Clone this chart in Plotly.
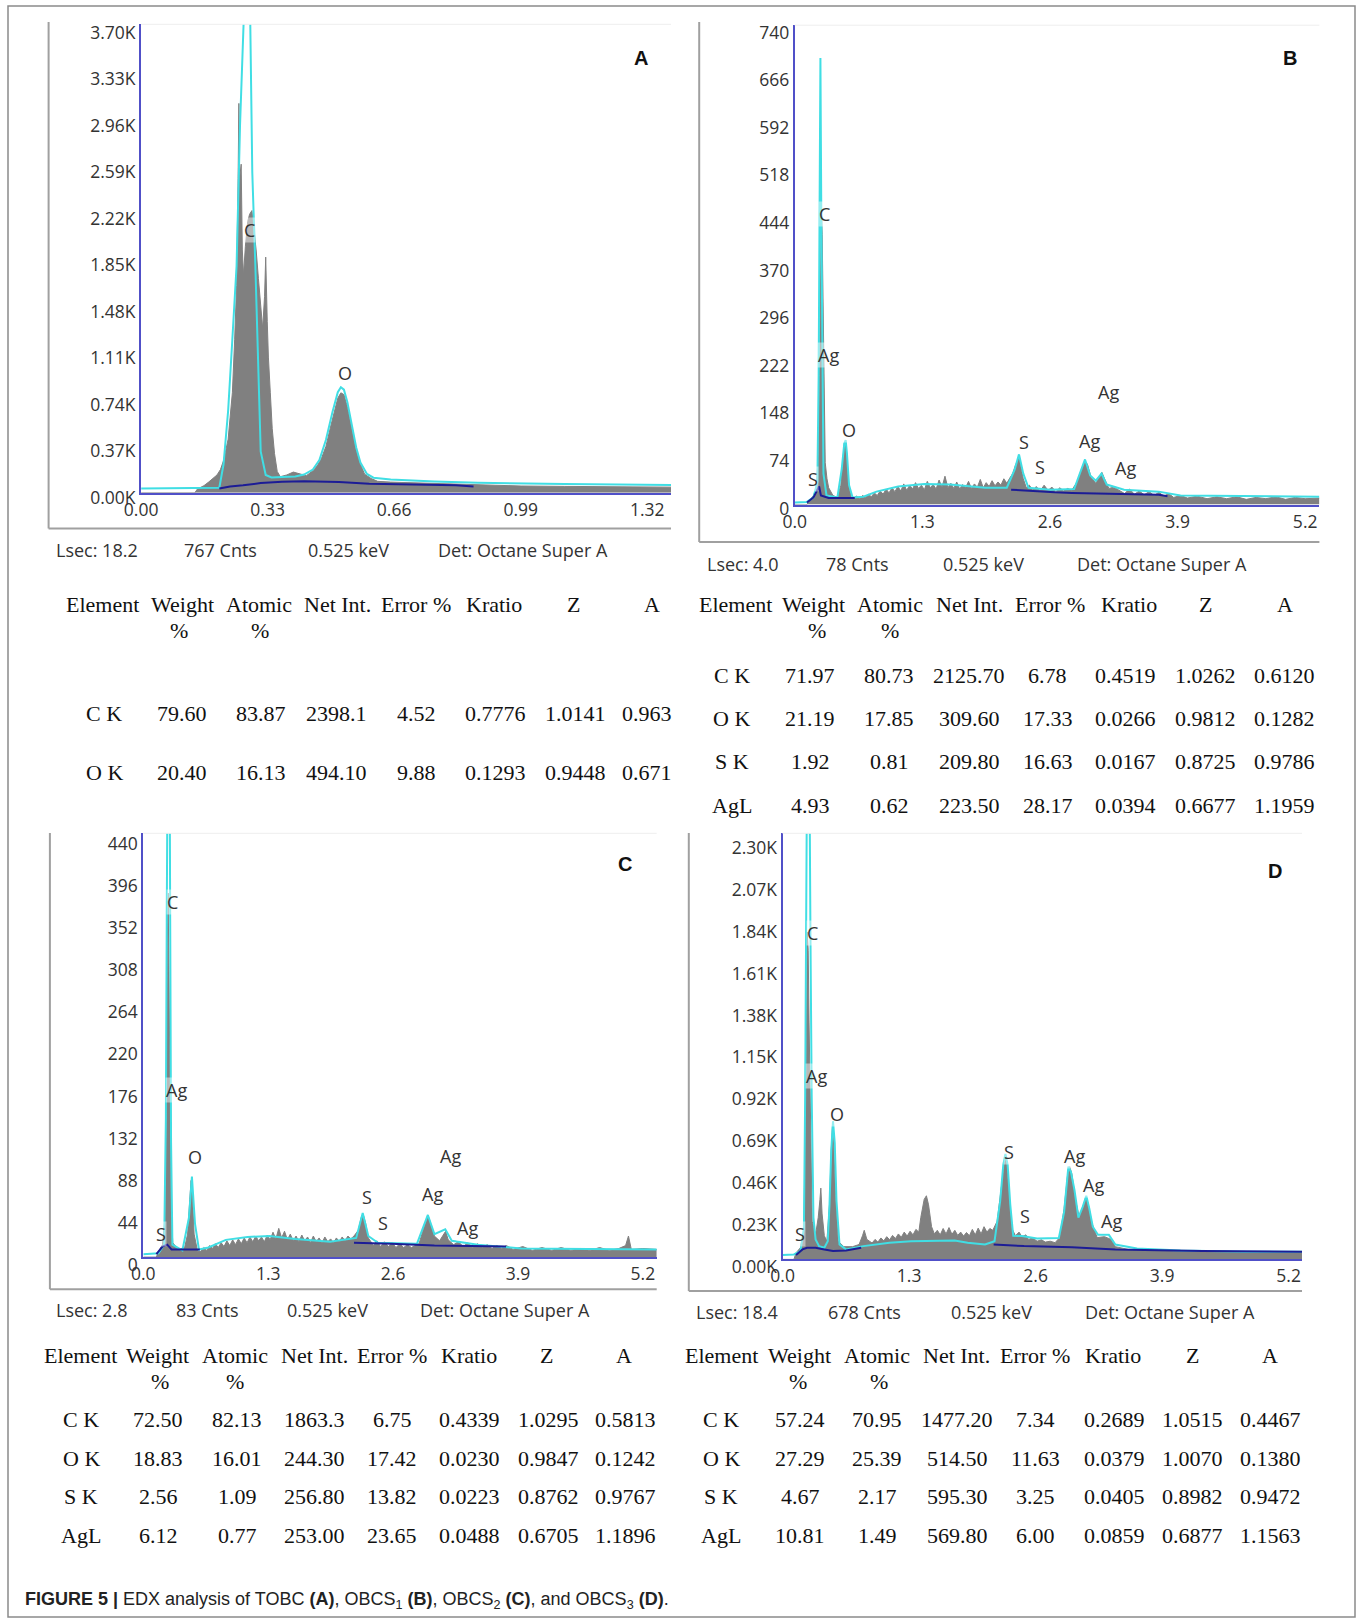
import plotly.graph_objects as go

# ---------------- DATA (energy keV, counts) ----------------
# Panel A (TOBC)
a_gray = [(0, 0), (0.14, 0), (0.147, 30), (0.164, 57), (0.176, 85), (0.187, 114), (0.198, 142), (0.207, 185),
          (0.215, 256), (0.221, 341), (0.227, 426), (0.232, 596), (0.238, 795), (0.244, 1221), (0.249, 1647),
          (0.253, 2499), (0.255, 3096), (0.257, 2499), (0.261, 2613), (0.264, 1931), (0.267, 1732), (0.272, 1960),
          (0.278, 2158), (0.283, 2215), (0.289, 2244), (0.295, 2073), (0.30, 1931), (0.306, 1704), (0.312, 1477),
          (0.317, 1306), (0.322, 1562), (0.325, 1874), (0.329, 1363), (0.332, 1079), (0.337, 795), (0.342, 511),
          (0.348, 312), (0.355, 170), (0.363, 128), (0.38, 142), (0.397, 165), (0.414, 148), (0.431, 136),
          (0.448, 176), (0.459, 213), (0.47, 270), (0.482, 369), (0.493, 511), (0.504, 653), (0.513, 753),
          (0.521, 795), (0.529, 781), (0.538, 682), (0.55, 511), (0.561, 341), (0.572, 227), (0.583, 148),
          (0.60, 114), (0.617, 91), (0.651, 85), (0.708, 80), (0.765, 74), (0.821, 68), (0.878, 62), (0.935, 57),
          (0.991, 54), (1.105, 51), (1.218, 48), (1.382, 45)]
a_fit = [(0, 34), (0.187, 36), (0.204, 40), (0.215, 227), (0.227, 653), (0.238, 1221), (0.249, 1803),
         (0.258, 2920), (0.266, 3900), (0.275, 4400), (0.284, 3900), (0.290, 2547), (0.298, 1803), (0.305, 1065),
         (0.312, 327), (0.325, 142), (0.34, 122), (0.368, 125), (0.402, 130), (0.425, 145), (0.448, 185),
         (0.465, 260), (0.482, 420), (0.499, 640), (0.513, 800), (0.521, 840), (0.529, 820), (0.538, 720),
         (0.55, 540), (0.561, 360), (0.572, 240), (0.589, 150), (0.606, 120), (0.651, 105), (0.765, 90),
         (0.878, 80), (1.105, 70), (1.382, 62)]
a_bg = [(0.204, 34), (0.232, 50), (0.266, 60), (0.312, 77), (0.368, 88), (0.425, 91), (0.516, 85), (0.595, 71),
        (0.708, 65), (0.821, 60), (0.867, 50)]
a_xticks = [0, 0.33, 0.66, 0.99, 1.32]
a_xticktext = ["0.00", "0.33", "0.66", "0.99", "1.32"]
a_yticks = [0, 370, 740, 1110, 1480, 1850, 2220, 2590, 2960, 3330, 3700]
a_yticktext = ["0.00K", "0.37K", "0.74K", "1.11K", "1.48K", "1.85K", "2.22K", "2.59K", "2.96K", "3.33K", "3.70K"]
a_peaks = [("C", 0.283, 2087), ("O", 0.532, 951)]
a_info = ["Lsec: 18.2", "767 Cnts", "0.525 keV", "Det: Octane Super A"]

# Panel B (OBCS1)
b_gray = [(0, 0), (0.124, 0), (0.146, 6), (0.19, 14), (0.221, 26), (0.239, 80), (0.252, 200), (0.261, 380),
          (0.27, 460), (0.279, 420), (0.288, 300), (0.297, 160), (0.31, 65), (0.328, 40), (0.345, 26), (0.389, 14),
          (0.434, 11), (0.469, 30), (0.487, 65), (0.504, 95), (0.518, 100), (0.531, 70), (0.549, 30), (0.575, 11),
          (0.60, 10), (0.63, 13), (0.66, 9), (0.69, 14), (0.72, 11), (0.75, 16), (0.78, 12), (0.81, 18), (0.84, 14),
          (0.87, 21), (0.90, 16), (0.93, 24), (0.96, 18), (0.99, 26), (1.02, 20), (1.05, 28), (1.08, 21),
          (1.11, 32), (1.14, 22), (1.17, 30), (1.20, 24), (1.23, 34), (1.26, 25), (1.29, 30), (1.32, 23),
          (1.35, 36), (1.38, 26), (1.41, 31), (1.44, 24), (1.47, 38), (1.50, 27), (1.53, 44), (1.56, 26),
          (1.59, 33), (1.62, 25), (1.65, 35), (1.68, 24), (1.71, 31), (1.74, 26), (1.77, 36), (1.80, 25),
          (1.83, 32), (1.86, 27), (1.89, 39), (1.92, 26), (1.95, 34), (1.98, 28), (2.01, 37), (2.04, 29),
          (2.07, 35), (2.10, 30), (2.13, 40), (2.16, 33), (2.19, 41), (2.22, 48), (2.25, 62), (2.27, 69),
          (2.284, 72), (2.302, 60), (2.328, 40), (2.359, 26), (2.39, 30), (2.425, 22), (2.46, 28), (2.50, 21),
          (2.54, 30), (2.58, 22), (2.62, 27), (2.66, 20), (2.70, 26), (2.74, 21), (2.78, 25), (2.82, 22),
          (2.877, 35), (2.921, 55), (2.957, 68), (2.983, 62), (3.019, 42), (3.067, 33), (3.103, 42), (3.129, 50),
          (3.156, 40), (3.20, 25), (3.25, 27), (3.31, 22), (3.36, 17), (3.41, 24), (3.46, 16), (3.51, 21),
          (3.56, 15), (3.61, 20), (3.66, 14), (3.71, 19), (3.76, 13), (3.81, 17), (3.86, 11), (3.93, 14),
          (4.0, 10), (4.1, 13), (4.2, 9), (4.3, 12), (4.4, 9), (4.5, 12), (4.6, 8), (4.7, 11), (4.8, 9),
          (4.9, 12), (5.0, 8), (5.1, 11), (5.2, 9), (5.345, 10)]
b_fit = [(0, 3), (0.124, 4), (0.19, 11), (0.23, 35), (0.243, 200), (0.252, 450), (0.261, 694), (0.27, 450),
         (0.279, 200), (0.292, 48), (0.323, 14), (0.434, 11), (0.478, 55), (0.504, 95), (0.518, 100), (0.531, 80),
         (0.553, 30), (0.589, 11), (0.699, 12), (0.832, 20), (1.053, 28), (1.319, 32), (1.585, 31), (1.939, 26),
         (2.16, 26), (2.24, 54), (2.284, 78), (2.328, 48), (2.381, 26), (2.603, 23), (2.846, 24), (2.903, 48),
         (2.957, 70), (3.01, 45), (3.067, 37), (3.125, 48), (3.178, 31), (3.355, 23), (3.709, 20), (3.93, 14),
         (4.594, 13), (5.345, 12)]
b_bg = [(0.124, 3), (0.19, 11), (0.221, 20), (0.248, 28), (0.266, 14), (0.345, 10), (0.611, 10), (None, None),
        (2.204, 23), (2.381, 21), (2.647, 19), (2.824, 18), (3.266, 17), (3.488, 16), (3.709, 15), (3.797, 13)]
b_xticks = [0, 1.3, 2.6, 3.9, 5.2]
b_xticktext = ["0.0", "1.3", "2.6", "3.9", "5.2"]
b_yticks = [0, 74, 148, 222, 296, 370, 444, 518, 592, 666, 740]
b_yticktext = ["0", "74", "148", "222", "296", "370", "444", "518", "592", "666", "740"]
b_peaks = [("C", 0.301, 451), ("Ag", 0.345, 232), ("S", 0.181, 40), ("O", 0.553, 116), ("S", 2.333, 97),
           ("S", 2.496, 59), ("Ag", 3.0, 98), ("Ag", 3.373, 56), ("Ag", 3.196, 175)]
b_info = ["Lsec: 4.0", "78 Cnts", "0.525 keV", "Det: Octane Super A"]

# Panel C (OBCS2)
c_gray = [(0, 0), (0.136, 0), (0.158, 6), (0.20, 13), (0.226, 41), (0.24, 150), (0.249, 320), (0.258, 380),
          (0.267, 300), (0.276, 150), (0.289, 50), (0.307, 15), (0.362, 8), (0.43, 10), (0.461, 24), (0.484, 60),
          (0.497, 80), (0.511, 65), (0.529, 24), (0.565, 6), (0.60, 6), (0.63, 10), (0.66, 7), (0.69, 12),
          (0.72, 9), (0.75, 14), (0.78, 10), (0.81, 15), (0.84, 11), (0.87, 17), (0.90, 12), (0.93, 18),
          (0.96, 13), (0.99, 19), (1.02, 14), (1.05, 20), (1.08, 15), (1.11, 21), (1.14, 16), (1.17, 22),
          (1.20, 17), (1.23, 21), (1.26, 16), (1.29, 23), (1.32, 18), (1.35, 26), (1.38, 19), (1.41, 30),
          (1.44, 20), (1.47, 27), (1.50, 18), (1.53, 24), (1.56, 17), (1.59, 22), (1.62, 16), (1.65, 23),
          (1.68, 17), (1.71, 21), (1.74, 15), (1.77, 22), (1.80, 16), (1.83, 20), (1.86, 15), (1.89, 21),
          (1.92, 16), (1.95, 19), (1.98, 15), (2.01, 20), (2.04, 16), (2.07, 21), (2.10, 17), (2.13, 22),
          (2.16, 19), (2.193, 22), (2.238, 28), (2.27, 42), (2.288, 45), (2.315, 35), (2.342, 20), (2.397, 12),
          (2.43, 17), (2.47, 11), (2.51, 16), (2.55, 11), (2.59, 15), (2.63, 10), (2.67, 14), (2.71, 10),
          (2.75, 13), (2.79, 10), (2.83, 12), (2.87, 14), (2.903, 25), (2.939, 38), (2.962, 44), (2.994, 34),
          (3.03, 22), (3.084, 17), (3.129, 24), (3.147, 27), (3.174, 18), (3.23, 13), (3.28, 16), (3.33, 11),
          (3.38, 15), (3.43, 10), (3.48, 14), (3.53, 10), (3.58, 13), (3.63, 9), (3.68, 12), (3.73, 9),
          (3.78, 12), (3.85, 8), (3.95, 11), (4.05, 7), (4.15, 10), (4.25, 7), (4.35, 10), (4.45, 7), (4.55, 9),
          (4.65, 7), (4.75, 10), (4.85, 7), (4.95, 9), (5.02, 12), (5.05, 22), (5.08, 8), (5.2, 9), (5.345, 8)]
c_fit = [(0, 3), (0.158, 4), (0.217, 13), (0.235, 145), (0.244, 350), (0.253, 600), (0.262, 700), (0.271, 600),
         (0.28, 350), (0.289, 120), (0.303, 13), (0.407, 7), (0.475, 41), (0.506, 84), (0.538, 35), (0.579, 8),
         (0.678, 10), (0.859, 18), (1.085, 21), (1.311, 22), (1.583, 19), (1.944, 16), (2.216, 20), (2.284, 46),
         (2.342, 22), (2.442, 15), (2.849, 14), (2.962, 44), (3.03, 24), (3.143, 29), (3.211, 17), (3.482, 13),
         (3.934, 9), (5.345, 8)]
c_bg = [(0.136, 3), (0.20, 11), (0.249, 13), (0.294, 8), (0.588, 8), (None, None), (2.193, 15), (2.578, 14),
        (3.03, 12), (3.482, 11), (3.776, 11)]
c_xticks = [0, 1.3, 2.6, 3.9, 5.2]
c_xticktext = ["0.0", "1.3", "2.6", "3.9", "5.2"]
c_yticks = [0, 44, 88, 132, 176, 220, 264, 308, 352, 396, 440]
c_yticktext = ["0", "44", "88", "132", "176", "220", "264", "308", "352", "396", "440"]
c_peaks = [("C", 0.303, 371), ("Ag", 0.348, 174), ("O", 0.543, 104), ("S", 0.181, 24), ("S", 2.329, 63),
           ("S", 2.496, 36), ("Ag", 3.007, 66), ("Ag", 3.378, 30), ("Ag", 3.197, 106)]
c_info = ["Lsec: 2.8", "83 Cnts", "0.525 keV", "Det: Octane Super A"]

# Panel D (OBCS3)
d_gray = [(0, 0), (0.116, 0), (0.138, 36), (0.183, 64), (0.219, 155), (0.232, 600), (0.246, 1300), (0.254, 1800),
          (0.263, 1700), (0.272, 1300), (0.286, 700), (0.304, 210), (0.339, 137), (0.366, 230), (0.384, 330),
          (0.393, 392), (0.406, 250), (0.429, 130), (0.455, 100), (0.482, 300), (0.50, 600), (0.513, 740),
          (0.527, 600), (0.545, 350), (0.571, 100), (0.629, 70), (0.719, 70), (0.786, 82), (0.821, 130),
          (0.839, 160), (0.866, 110), (0.92, 90), (0.95, 110), (0.98, 95), (1.01, 118), (1.04, 102), (1.07, 125),
          (1.10, 108), (1.13, 132), (1.16, 115), (1.19, 140), (1.22, 122), (1.25, 150), (1.28, 128), (1.31, 155),
          (1.34, 135), (1.37, 165), (1.40, 150), (1.42, 230), (1.455, 330), (1.478, 350), (1.50, 300),
          (1.531, 180), (1.56, 140), (1.59, 160), (1.62, 135), (1.65, 170), (1.68, 140), (1.71, 175),
          (1.74, 138), (1.77, 160), (1.80, 132), (1.83, 150), (1.86, 128), (1.89, 148), (1.92, 130), (1.95, 165),
          (1.98, 135), (2.01, 172), (2.04, 140), (2.07, 180), (2.10, 150), (2.13, 170), (2.16, 160),
          (2.205, 210), (2.241, 380), (2.268, 500), (2.286, 560), (2.304, 520), (2.326, 350), (2.357, 170),
          (2.393, 130), (2.43, 150), (2.46, 125), (2.50, 135), (2.527, 110), (2.57, 118), (2.616, 100),
          (2.66, 108), (2.70, 95), (2.75, 100), (2.80, 92), (2.848, 120), (2.893, 280), (2.928, 460),
          (2.951, 510), (2.973, 470), (3.009, 330), (3.045, 240), (3.081, 280), (3.117, 345), (3.143, 300),
          (3.179, 200), (3.233, 120), (3.309, 125), (3.375, 110), (3.42, 70), (3.553, 55), (3.866, 49),
          (4.312, 45), (4.759, 42), (5.339, 40)]
d_fit = [(0, 24), (0.116, 27), (0.183, 46), (0.219, 170), (0.232, 900), (0.241, 1800), (0.25, 2600),
         (0.263, 3000), (0.277, 2600), (0.286, 1800), (0.299, 900), (0.317, 230), (0.339, 110), (0.375, 73),
         (0.429, 64), (0.464, 100), (0.482, 300), (0.50, 600), (0.518, 760), (0.536, 640), (0.554, 320),
         (0.585, 82), (0.652, 55), (0.83, 73), (1.098, 91), (1.321, 100), (1.634, 100), (1.768, 104),
         (1.902, 91), (2.08, 82), (2.178, 100), (2.236, 320), (2.268, 520), (2.29, 580), (2.313, 520),
         (2.34, 300), (2.37, 130), (2.46, 128), (2.616, 115), (2.839, 118), (2.893, 260), (2.937, 510),
         (2.964, 480), (3.0, 380), (3.04, 230), (3.085, 290), (3.121, 350), (3.152, 280), (3.188, 180),
         (3.241, 135), (3.353, 135), (3.42, 82), (3.643, 60), (4.089, 49), (4.759, 42), (5.339, 42)]
d_bg = [(0.138, 24), (0.205, 55), (0.25, 64), (0.339, 64), (0.429, 55), (0.518, 46), (0.652, 49), (0.808, 64),
        (None, None), (2.169, 82), (2.482, 73), (2.973, 67), (3.33, 60), (3.42, 55), (3.866, 51), (4.312, 46),
        (5.339, 42)]
d_xticks = [0, 1.3, 2.6, 3.9, 5.2]
d_xticktext = ["0.0", "1.3", "2.6", "3.9", "5.2"]
d_yticks = [0, 230, 460, 690, 920, 1150, 1380, 1610, 1840, 2070, 2300]
d_yticktext = ["0.00K", "0.23K", "0.46K", "0.69K", "0.92K", "1.15K", "1.38K", "1.61K", "1.84K", "2.07K", "2.30K"]
d_peaks = [("C", 0.304, 1797), ("Ag", 0.353, 1009), ("O", 0.554, 797), ("S", 0.183, 137), ("S", 2.33, 593),
           ("S", 2.495, 237), ("Ag", 3.004, 569), ("Ag", 3.196, 410), ("Ag", 3.375, 213)]
d_info = ["Lsec: 18.4", "678 Cnts", "0.525 keV", "Det: Octane Super A"]

# Quantification tables
table_header = ["Element", "Weight", "Atomic", "Net Int.", "Error %", "Kratio", "Z", "A"]
table_a_rows = [["C K", "79.60", "83.87", "2398.1", "4.52", "0.7776", "1.0141", "0.963"],
                ["O K", "20.40", "16.13", "494.10", "9.88", "0.1293", "0.9448", "0.671"]]
table_b_rows = [["C K", "71.97", "80.73", "2125.70", "6.78", "0.4519", "1.0262", "0.6120"],
                ["O K", "21.19", "17.85", "309.60", "17.33", "0.0266", "0.9812", "0.1282"],
                ["S K", "1.92", "0.81", "209.80", "16.63", "0.0167", "0.8725", "0.9786"],
                ["AgL", "4.93", "0.62", "223.50", "28.17", "0.0394", "0.6677", "1.1959"]]
table_c_rows = [["C K", "72.50", "82.13", "1863.3", "6.75", "0.4339", "1.0295", "0.5813"],
                ["O K", "18.83", "16.01", "244.30", "17.42", "0.0230", "0.9847", "0.1242"],
                ["S K", "2.56", "1.09", "256.80", "13.82", "0.0223", "0.8762", "0.9767"],
                ["AgL", "6.12", "0.77", "253.00", "23.65", "0.0488", "0.6705", "1.1896"]]
table_d_rows = [["C K", "57.24", "70.95", "1477.20", "7.34", "0.2689", "1.0515", "0.4467"],
                ["O K", "27.29", "25.39", "514.50", "11.63", "0.0379", "1.0070", "0.1380"],
                ["S K", "4.67", "2.17", "595.30", "3.25", "0.0405", "0.8982", "0.9472"],
                ["AgL", "10.81", "1.49", "569.80", "6.00", "0.0859", "0.6877", "1.1563"]]

caption = ("<b>FIGURE 5 |</b> EDX analysis of TOBC <b>(A)</b>, OBCS<sub>1</sub> <b>(B)</b>, "
           "OBCS<sub>2</sub> <b>(C)</b>, and OBCS<sub>3</sub> <b>(D)</b>.")

# ---------------- LAYOUT ----------------
W, H = 1362, 1619


def PX(x):
    return x / W


def PY(y):
    return 1 - y / H


def split(pts):
    return [p[0] for p in pts], [p[1] for p in pts]


GRAY = "rgb(128,128,128)"
CYAN = "rgb(64,222,228)"
NAVY = "rgb(28,28,150)"
AXIS = "rgb(80,80,200)"
TXT = "#333333"
TICKFONT = dict(family="Open Sans", size=17.5, color=TXT)

panels = [
    dict(letter="A", gray=a_gray, fit=a_fit, bg=a_bg,
         xt=(a_xticks, a_xticktext), yt=(a_yticks, a_yticktext), peaks=a_peaks, info=a_info,
         xd=(141.1, 671), yd=(492.8, 24.3), xr=1.382, yr=3725, yshift=5,
         letter_pos=(640.6, 58), info_x=[54, 182, 306, 436], info_y=550,
         frame=(48.6, 22, 528.5, 671),
         table=table_a_rows, head_x=[102, 182, 259, 337, 415.5, 494, 573, 652], pct_x=[179, 260],
         data_x=[104, 181.5, 261, 336, 416, 495, 575, 647], head_y=604, pct_y=630, row_y=[714, 773]),
    dict(letter="B", gray=b_gray, fit=b_fit, bg=b_bg,
         xt=(b_xticks, b_xticktext), yt=(b_yticks, b_yticktext), peaks=b_peaks, info=b_info,
         xd=(794.8, 1319.4), yd=(504.5, 25.2), xr=5.345, yr=745, yshift=4,
         letter_pos=(1290, 58), info_x=[705, 824, 941, 1075], info_y=564,
         frame=(699.2, 22, 542, 1319.4),
         table=table_b_rows, head_x=[735, 813, 889.5, 969, 1049.5, 1129, 1205, 1285], pct_x=[816.5, 890],
         data_x=[732, 810, 889, 969, 1047.5, 1125, 1205, 1284], head_y=604, pct_y=630,
         row_y=[675.5, 718.5, 762, 805.5]),
    dict(letter="C", gray=c_gray, fit=c_fit, bg=c_bg,
         xt=(c_xticks, c_xticktext), yt=(c_yticks, c_yticktext), peaks=c_peaks, info=c_info,
         xd=(143.3, 656.7), yd=(1257.1, 833.3), xr=5.344, yr=442.4, yshift=8,
         letter_pos=(625.4, 864), info_x=[54, 174, 285, 418], info_y=1310,
         frame=(49.9, 833, 1289.2, 656.7),
         table=table_c_rows, head_x=[80, 157, 235, 314.5, 391.5, 469, 546, 624], pct_x=[160, 234.5],
         data_x=[81, 158, 237, 314, 392, 469, 548, 625], head_y=1355, pct_y=1381,
         row_y=[1419, 1458, 1496, 1535.5]),
    dict(letter="D", gray=d_gray, fit=d_fit, bg=d_bg,
         xt=(d_xticks, d_xticktext), yt=(d_yticks, d_yticktext), peaks=d_peaks, info=d_info,
         xd=(782.6, 1302), yd=(1259.4, 833.3), xr=5.338, yr=2343, yshift=7,
         letter_pos=(1275, 871), info_x=[694, 826, 949, 1083], info_y=1312,
         frame=(688.8, 833, 1290.9, 1302),
         table=table_d_rows, head_x=[721, 799.5, 877.5, 956, 1035, 1113, 1192, 1270], pct_x=[798, 878.6],
         data_x=[721, 800, 877.5, 957, 1035, 1114, 1192, 1270], head_y=1355, pct_y=1381,
         row_y=[1419, 1458, 1496, 1535.5]),
]

fig = go.Figure()
annotations = []
shapes = []
layout_axes = {}

for i, p in enumerate(panels, start=1):
    xa = "x" if i == 1 else f"x{i}"
    ya = "y" if i == 1 else f"y{i}"
    xkey = "xaxis" if i == 1 else f"xaxis{i}"
    ykey = "yaxis" if i == 1 else f"yaxis{i}"

    ge, gc = split(p["gray"])
    fig.add_trace(go.Scatter(x=ge, y=gc, mode="lines", fill="tozeroy", line=dict(color=GRAY, width=1),
                             fillcolor=GRAY, xaxis=xa, yaxis=ya, hoverinfo="skip"))
    fe, fc = split(p["fit"])
    fig.add_trace(go.Scatter(x=fe, y=fc, mode="lines", line=dict(color=CYAN, width=2),
                             xaxis=xa, yaxis=ya, hoverinfo="skip"))
    be, bc = split(p["bg"])
    fig.add_trace(go.Scatter(x=be, y=bc, mode="lines", line=dict(color=NAVY, width=2),
                             connectgaps=False, xaxis=xa, yaxis=ya, hoverinfo="skip"))

    layout_axes[xkey] = dict(domain=[PX(p["xd"][0]), PX(p["xd"][1])], range=[0, p["xr"]], anchor=ya,
                             showline=True, linecolor=AXIS, linewidth=2, showgrid=False, zeroline=False,
                             ticks="", tickvals=p["xt"][0], ticktext=p["xt"][1], tickfont=TICKFONT,
                             fixedrange=True, automargin=False)
    layout_axes[ykey] = dict(domain=[PY(p["yd"][0]), PY(p["yd"][1])], range=[0, p["yr"]], anchor=xa,
                             showline=True, linecolor=AXIS, linewidth=2, showgrid=False, zeroline=False,
                             ticks="", tickvals=p["yt"][0],
                             ticktext=p["yt"][1], tickfont=TICKFONT, ticklabelshift=p["yshift"],
                             fixedrange=True, automargin=False)

    # element labels on peaks
    for lab, ex, cy in p["peaks"]:
        annotations.append(dict(x=ex, y=cy, xref=xa, yref=ya, text=lab, showarrow=False,
                                xanchor="center", yanchor="middle",
                                font=dict(family="Open Sans", size=18, color=TXT),
                                bgcolor="rgba(255,255,255,0.45)", borderpad=0))
    # panel letter
    annotations.append(dict(x=PX(p["letter_pos"][0]), y=PY(p["letter_pos"][1]), xref="paper", yref="paper",
                            text=f"<b>{p['letter']}</b>", showarrow=False, xanchor="center", yanchor="middle",
                            font=dict(family="Liberation Sans", size=20, color="#111")))
    # info line
    for txt, ix in zip(p["info"], p["info_x"]):
        annotations.append(dict(x=PX(ix), y=PY(p["info_y"]), xref="paper", yref="paper", text=txt,
                                showarrow=False, xanchor="left", yanchor="middle",
                                font=dict(family="Open Sans", size=18, color=TXT)))
    # frame lines (left + bottom) and faint top edge
    fx, ftop, fbot, fright = p["frame"]
    shapes.append(dict(type="line", xref="paper", yref="paper", x0=PX(fx), x1=PX(fx), y0=PY(ftop), y1=PY(fbot),
                       line=dict(color="#a0a0a0", width=2)))
    shapes.append(dict(type="line", xref="paper", yref="paper", x0=PX(fx), x1=PX(fright), y0=PY(fbot),
                       y1=PY(fbot), line=dict(color="#a0a0a0", width=2)))
    shapes.append(dict(type="line", xref="paper", yref="paper", x0=PX(p["xd"][0]), x1=PX(p["xd"][1]),
                       y0=PY(p["yd"][1]), y1=PY(p["yd"][1]), line=dict(color="#eeeeee", width=1)))

    # table
    tfont = dict(family="Liberation Serif", size=22, color="#111")
    for htxt, hx in zip(table_header, p["head_x"]):
        annotations.append(dict(x=PX(hx), y=PY(p["head_y"]), xref="paper", yref="paper", text=htxt,
                                showarrow=False, xanchor="center", yanchor="middle", font=tfont))
    for px_ in p["pct_x"]:
        annotations.append(dict(x=PX(px_), y=PY(p["pct_y"]), xref="paper", yref="paper", text="%",
                                showarrow=False, xanchor="center", yanchor="middle", font=tfont))
    for row, ry in zip(p["table"], p["row_y"]):
        for cell, cx in zip(row, p["data_x"]):
            annotations.append(dict(x=PX(cx), y=PY(ry), xref="paper", yref="paper", text=cell,
                                    showarrow=False, xanchor="center", yanchor="middle", font=tfont))

# caption
annotations.append(dict(x=PX(22.5), y=PY(1600), xref="paper", yref="paper", text=caption, showarrow=False,
                        xanchor="left", yanchor="middle", font=dict(family="Liberation Sans", size=18, color="#222")))

# outer frame
shapes.append(dict(type="rect", xref="paper", yref="paper", x0=PX(8), x1=PX(1355), y0=PY(6), y1=PY(1617),
                   line=dict(color="#8a8a8a", width=1.5)))

fig.update_layout(width=W, height=H, margin=dict(l=0, r=0, t=0, b=0, pad=0, autoexpand=False),
                  paper_bgcolor="white", plot_bgcolor="white", showlegend=False,
                  annotations=annotations, shapes=shapes, **layout_axes)

fig.write_html("out.html")
